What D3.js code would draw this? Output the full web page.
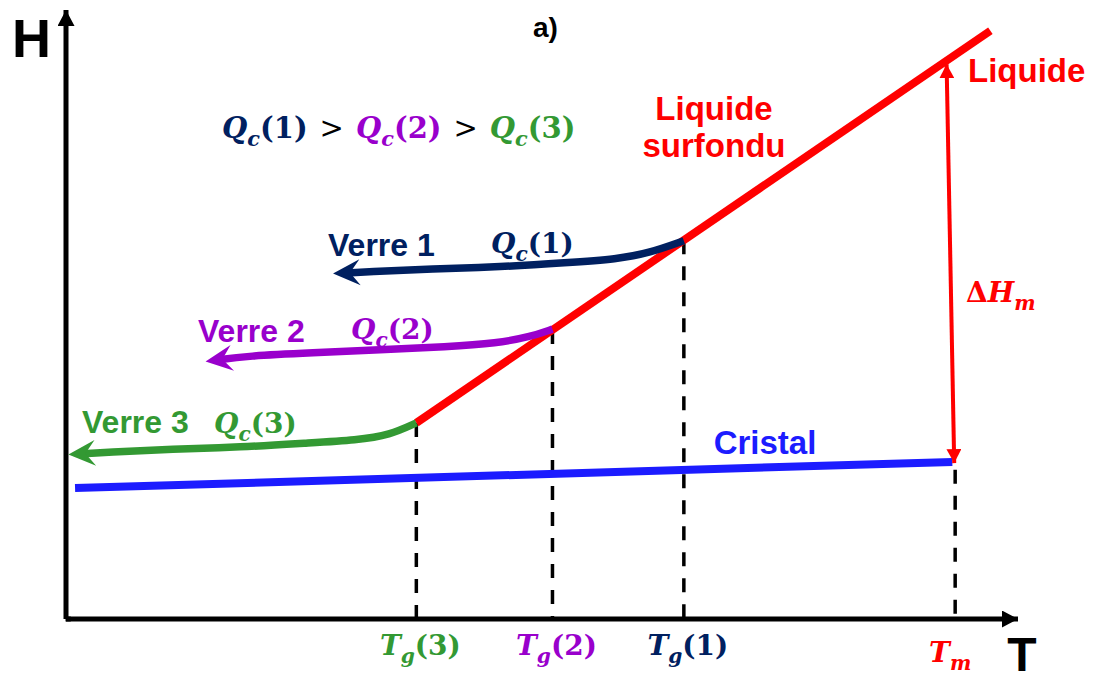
<!doctype html>
<html>
<head>
<meta charset="utf-8">
<style>
    body { margin: 0; background: #fff; }
    #chart text { font-family: "Liberation Sans", Arial, sans-serif; font-weight: bold; }
    #chart text.math { font-family: "DejaVu Serif", serif; font-weight: bold; }
</style>
</head>
<body>
<svg id="chart"></svg>
<script src="https://cdn.jsdelivr.net/npm/d3@7/dist/d3.min.js"></script>
<script>
    var width = 1094, height = 682;

    // glass transitions (T units), slowest cooling first
    var tgNames = ['3', '2', '1'];
    var tgValues = [36.8, 51.1, 64.9];
    var tmValue = 93.4;

    // liquid / supercooled liquid line
    var liquidT = [36.8, 97.1];
    var liquidH = [32.2, 96.6];

    // crystal line
    var crystalT = [0.95, 93.1];
    var crystalH = [21.5, 25.8];

    // melting enthalpy arrow
    var meltT = [92.5, 93.3];
    var meltH = [91.1, 25.6];

    // glass cooling paths (start at Tg, end at arrow)
    var verre1T = [64.9, 61.3, 57.9, 52.6, 45.6, 38.5, 31.6, 29.1];
    var verre1H = [62.1, 60.1, 59.1, 58.5, 57.8, 57.5, 57.0, 56.8];
    var verre2T = [51.1, 48.7, 45.3, 40.0, 33.0, 25.9, 19.0, 15.7];
    var verre2H = [47.6, 46.3, 45.3, 44.7, 44.2, 43.7, 43.2, 42.5];
    var verre3T = [36.8, 34.0, 30.6, 25.3, 18.3, 11.2, 4.3, 1.3];
    var verre3H = [32.2, 30.2, 29.4, 28.9, 28.2, 27.9, 27.4, 27.1];

    var navy = '#002060', purple = '#9900CC', green = '#339933', red = '#FF0000', blue = '#1C1CFF';
    var tgColors = [green, purple, navy];

    var svg = d3.select('#chart').attr('width', width).attr('height', height);
    var x = d3.scaleLinear().domain([0, 100]).range([66, 1018]);
    var y = d3.scaleLinear().domain([0, 100]).range([619, 10]);
    var liquidAt = d3.scaleLinear().domain(liquidT).range(liquidH);
    var crystalAt = d3.scaleLinear().domain(crystalT).range(crystalH);

    var defs = svg.append('defs');
    function barbed(id, color) {
        defs.append('marker').attr('id', id)
            .attr('viewBox', '-20 -14 32 28').attr('refX', 0).attr('refY', 0)
            .attr('markerWidth', 32).attr('markerHeight', 28)
            .attr('markerUnits', 'userSpaceOnUse').attr('orient', 'auto')
            .append('path').attr('d', 'M10,0 L-17,-13 L-7,0 L-17,13 Z').attr('fill', color);
    }
    function tri(id, color, len, half) {
        defs.append('marker').attr('id', id)
            .attr('viewBox', [-len, -half, len, half * 2].join(' ')).attr('refX', 0).attr('refY', 0)
            .attr('markerWidth', len).attr('markerHeight', half * 2)
            .attr('markerUnits', 'userSpaceOnUse').attr('orient', 'auto-start-reverse')
            .append('path').attr('d', 'M0,0 L' + (-len) + ',' + (-half) + ' L' + (-len) + ',' + half + ' Z')
            .attr('fill', color);
    }
    barbed('a-navy', navy);
    barbed('a-purple', purple);
    barbed('a-green', green);
    tri('a-axis', '#000', 16, 8.5);
    tri('a-red', red, 14, 7.5);

    var line = d3.line().x(function(d) { return x(d[0]); }).y(function(d) { return y(d[1]); });
    var curve = d3.line().x(function(d) { return x(d[0]); }).y(function(d) { return y(d[1]); }).curve(d3.curveBasis);

    // axes
    svg.append('path').attr('d', line([[0, 0], [0, 100]]))
        .attr('stroke', '#000').attr('stroke-width', 5).attr('fill', 'none')
        .attr('marker-end', 'url(#a-axis)');
    svg.append('path').attr('d', line([[0, 0], [100, 0]]))
        .attr('stroke', '#000').attr('stroke-width', 5).attr('fill', 'none')
        .attr('marker-end', 'url(#a-axis)');
    svg.append('path').attr('d', line([[-0.05, 0], [0.5, 0]]))
        .attr('stroke', '#000').attr('stroke-width', 5);

    // dashed drop lines
    tgValues.forEach(function(t) {
        svg.append('path').attr('d', line([[t, liquidAt(t)], [t, 0]]))
            .attr('stroke', '#000').attr('stroke-width', 3.5).attr('stroke-dasharray', '14,12');
    });
    svg.append('path').attr('d', line([[tmValue, crystalAt(tmValue) - 1.3], [tmValue, 0]]))
        .attr('stroke', '#000').attr('stroke-width', 3.5).attr('stroke-dasharray', '14,12');

    // crystal and liquid
    svg.append('path').attr('d', line(d3.zip(crystalT, crystalH)))
        .attr('stroke', blue).attr('stroke-width', 8).attr('fill', 'none');
    svg.append('path').attr('d', line(d3.zip(liquidT, liquidH)))
        .attr('stroke', red).attr('stroke-width', 8).attr('fill', 'none');

    // glass paths
    [[verre1T, verre1H, navy, 'a-navy'], [verre2T, verre2H, purple, 'a-purple'], [verre3T, verre3H, green, 'a-green']]
        .forEach(function(g) {
            svg.append('path').attr('d', curve(d3.zip(g[0], g[1])))
                .attr('stroke', g[2]).attr('stroke-width', 7.5).attr('fill', 'none')
                .attr('marker-end', 'url(#' + g[3] + ')');
        });

    // melting enthalpy arrow
    svg.append('path').attr('d', line(d3.zip(meltT, meltH)))
        .attr('stroke', red).attr('stroke-width', 4).attr('fill', 'none')
        .attr('marker-start', 'url(#a-red)').attr('marker-end', 'url(#a-red)');

    // plain labels
    function label(txt, px, py, size, color, anchor) {
        return svg.append('text').attr('x', px).attr('y', py).attr('font-size', size)
            .attr('fill', color).attr('text-anchor', anchor || 'start').text(txt);
    }
    label('H', 12, 57, 54, '#000');
    label('T', 1022, 671, 48, '#000', 'middle');
    label('a)', 533, 37, 28, '#000');
    label('Liquide', 968, 82, 33, red);
    label('Liquide', 714, 120, 33, red, 'middle');
    label('surfondu', 714, 157, 33, red, 'middle');
    label('Cristal', 765, 454, 33, blue, 'middle');
    label('Verre 1', 328, 256, 32, navy);
    label('Verre 2', 198, 342, 32, purple);
    label('Verre 3', 82, 433, 32, green);

    // math labels
    function math(px, py, size, parts, anchor) {
        var t = svg.append('text').attr('class', 'math').attr('x', px).attr('y', py)
            .attr('font-size', size).attr('text-anchor', anchor || 'start');
        var down = false;
        parts.forEach(function(p) {
            var s = t.append('tspan').text(p.t).attr('fill', p.fill || '#000');
            if (p.it) s.attr('font-style', 'italic');
            if (p.dx) s.attr('dx', p.dx);
            if (p.plain) s.attr('font-weight', 'normal');
            if (p.sub) {
                s.attr('font-size', size * 0.72);
                if (!down) { s.attr('dy', size * 0.28); down = true; }
            } else if (down) {
                s.attr('dy', -size * 0.28); down = false;
            }
        });
        return t;
    }
    function qc(n, c, dx) {
        return [{t: 'Q', it: true, fill: c, dx: dx}, {t: 'c', it: true, sub: true, fill: c}, {t: '(' + n + ')', fill: c}];
    }
    math(222, 138, 29, qc(1, navy)
        .concat([{t: '>', dx: 12, plain: true}])
        .concat(qc(2, purple, 12))
        .concat([{t: '>', dx: 12, plain: true}])
        .concat(qc(3, green, 12)));
    math(491, 253, 28, qc(1, navy));
    math(351, 339, 28, qc(2, purple));
    math(214, 433, 28, qc(3, green));

    tgValues.forEach(function(t, i) {
        math(x(t) + 4, 655, 28, [{t: 'T', it: true, fill: tgColors[i]}, {t: 'g', it: true, sub: true, fill: tgColors[i]},
            {t: '(' + tgNames[i] + ')', fill: tgColors[i]}], 'middle');
    });
    math(x(tmValue) - 5, 662, 28, [{t: 'T', it: true, fill: red}, {t: 'm', it: true, sub: true, fill: red}], 'middle');
    math(966, 302, 28, [{t: '\u0394', fill: red}, {t: 'H', it: true, fill: red}, {t: 'm', it: true, sub: true, fill: red}]);
</script>
</body>
</html>
